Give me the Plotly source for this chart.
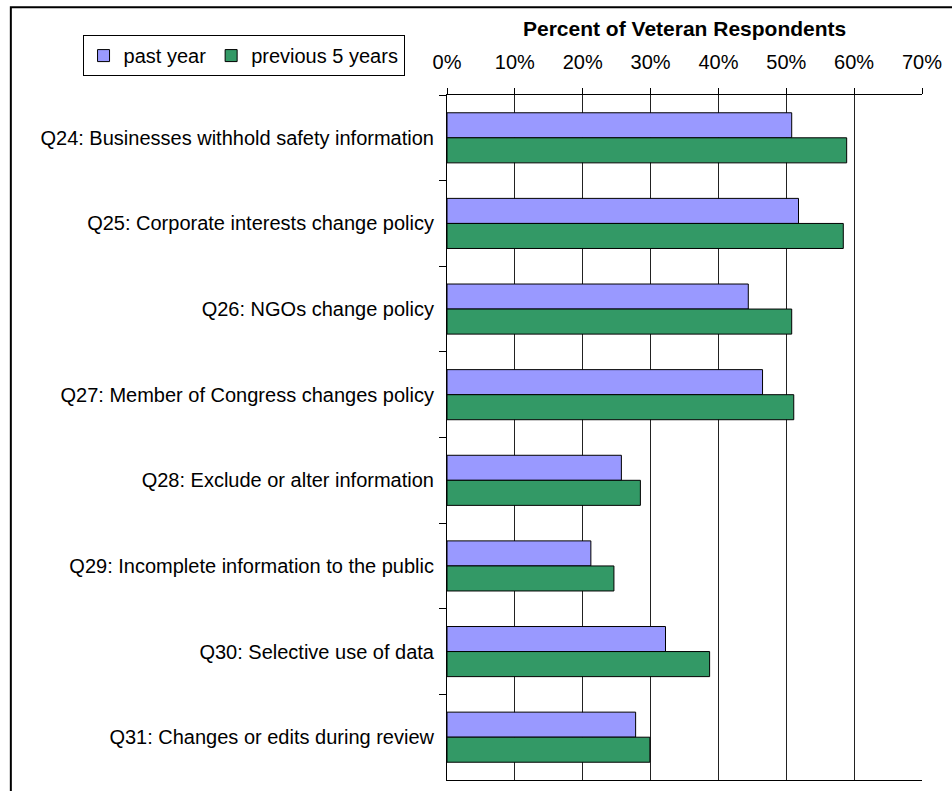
import plotly.graph_objects as go

questions = [
    "Q24: Businesses withhold safety information",
    "Q25: Corporate interests change policy",
    "Q26: NGOs change policy",
    "Q27: Member of Congress changes policy",
    "Q28: Exclude or alter information",
    "Q29: Incomplete information to the public",
    "Q30: Selective use of data",
    "Q31: Changes or edits during review",
]
past_year = [0.508, 0.518, 0.444, 0.465, 0.257, 0.212, 0.322, 0.278]
previous_5_years = [0.589, 0.584, 0.508, 0.511, 0.285, 0.246, 0.387, 0.299]

FONT = "Arial, Liberation Sans, sans-serif"

# plot area in pixels (used only to place the outer frame, legend and title)
W, H = 952, 791
L, R, T, B = 447, 924, 95, 781


def px_x(x):
    return (x - L) / (R - L)


def px_y(y):
    return (B - y) / (B - T)


fig = go.Figure()
fig.add_trace(go.Bar(
    y=questions, x=past_year, name="past year", orientation="h",
    marker=dict(color="#9999FF", line=dict(color="black", width=1)),
))
fig.add_trace(go.Bar(
    y=questions, x=previous_5_years, name="previous 5 years", orientation="h",
    marker=dict(color="#339966", line=dict(color="black", width=1)),
))

fig.update_layout(
    width=W, height=H,
    margin=dict(l=L, r=W - R, t=T, b=H - B),
    paper_bgcolor="white", plot_bgcolor="white",
    font=dict(family=FONT, size=20, color="black"),
    barmode="group", bargap=0.415, bargroupgap=0,
    showlegend=True,
    legend=dict(
        orientation="h", x=px_x(81), y=px_y(35), xanchor="left", yanchor="top",
        bordercolor="black", borderwidth=1, bgcolor="white",
        font=dict(size=20), itemwidth=30, tracegroupgap=0,
    ),
)

fig.update_xaxes(
    side="top", range=[0, 0.7], dtick=0.1, tickformat=".0%",
    ticks="outside", ticklen=6, tickcolor="black", ticklabelstandoff=11,
    showline=True, linecolor="black", linewidth=1, mirror=True,
    showgrid=True, gridcolor="#222222", gridwidth=1, zeroline=False,
)
fig.update_yaxes(
    autorange="reversed", tickson="boundaries",
    ticks="outside", ticklen=7, tickcolor="black", ticklabelstandoff=8,
    showline=True, linecolor="black", linewidth=1,
    showgrid=False,
)

# chart title
fig.add_annotation(
    text="<b>Percent of Veteran Respondents</b>", xref="paper", yref="paper",
    x=px_x(686), y=px_y(28), xanchor="center", yanchor="middle",
    showarrow=False, font=dict(size=21),
)

# outer chart frame (cropped on right and bottom)
fig.add_shape(
    type="rect", xref="paper", yref="paper",
    x0=px_x(9), x1=px_x(990), y0=px_y(830), y1=px_y(7),
    line=dict(color="black", width=2), layer="below",
)

fig.write_html(
    "out.html",
    config={"displayModeBar": False},
    post_script="document.body.style.margin='0';document.body.style.overflow='hidden';",
)
